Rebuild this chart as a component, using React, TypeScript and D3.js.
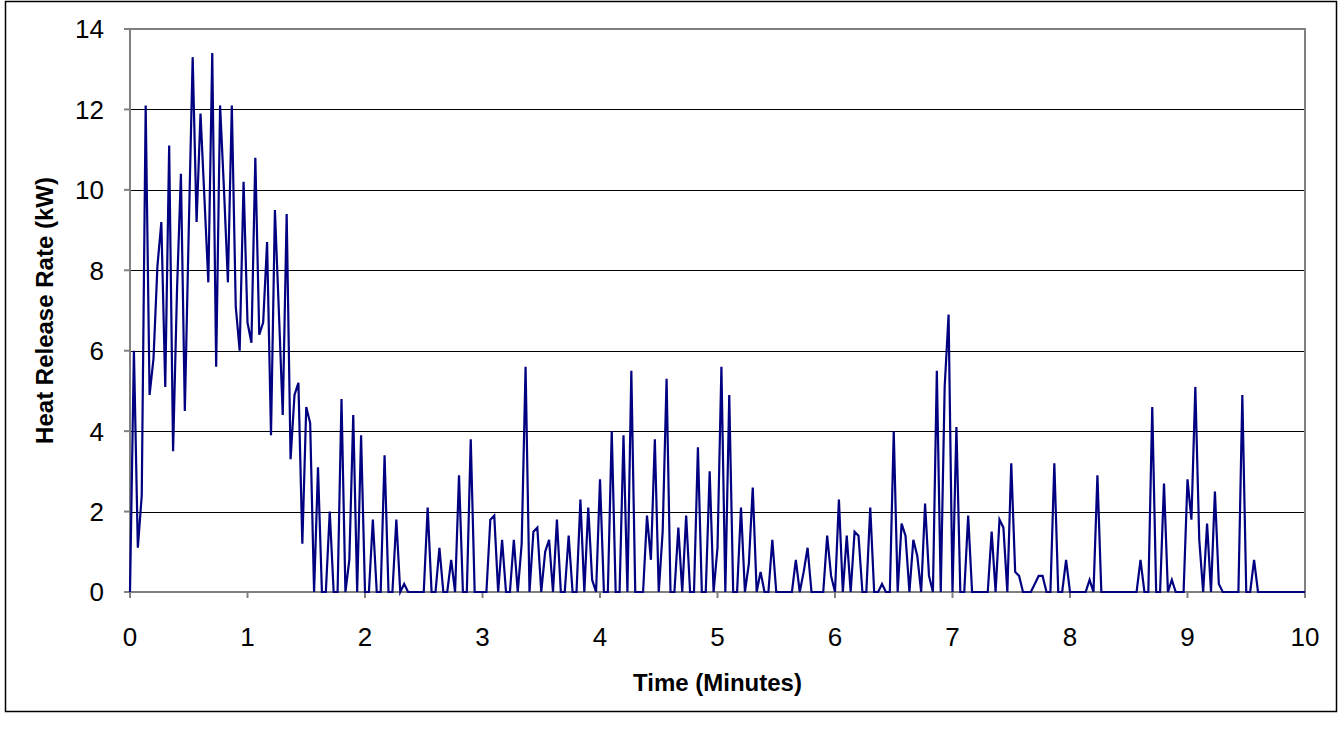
import React from "react";
import * as d3 from "d3";

// Heat release rate samples, one every 2 seconds (0 to 10 minutes)
const SAMPLE_MINUTES = 1 / 30;
const hrrValues: number[] = [
  0, 6.0, 1.1, 2.4, 12.1, 4.9, 5.8, 8.1, 9.2, 5.1,
  11.1, 3.5, 7.5, 10.4, 4.5, 9.0, 13.3, 9.2, 11.9, 9.8,
  7.7, 13.4, 5.6, 12.1, 10.0, 7.7, 12.1, 7.1, 6.0, 10.2,
  6.7, 6.2, 10.8, 6.4, 6.7, 8.7, 3.9, 9.5, 7.0, 4.4,
  9.4, 3.3, 4.9, 5.2, 1.2, 4.6, 4.2, 0, 3.1, 0,
  0, 2.0, 0, 0, 4.8, 0, 0.8, 4.4, 0, 3.9,
  0, 0, 1.8, 0, 0, 3.4, 0, 0, 1.8, 0,
  0.2, 0, 0, 0, 0, 0, 2.1, 0, 0, 1.1,
  0, 0, 0.8, 0, 2.9, 0, 0, 3.8, 0, 0,
  0, 0, 1.8, 1.9, 0, 1.3, 0, 0, 1.3, 0,
  1.2, 5.6, 0, 1.5, 1.6, 0, 1.0, 1.3, 0, 1.8,
  0, 0, 1.4, 0, 0, 2.3, 0, 2.1, 0.3, 0,
  2.8, 0, 0, 4.0, 0, 0, 3.9, 0, 5.5, 0,
  0, 0, 1.9, 0.8, 3.8, 0, 1.5, 5.3, 0, 0,
  1.6, 0, 1.9, 0, 0, 3.6, 0, 0, 3.0, 0,
  1.1, 5.6, 0, 4.9, 0, 0, 2.1, 0, 0.7, 2.6,
  0, 0.5, 0, 0, 1.3, 0, 0, 0, 0, 0,
  0.8, 0, 0.5, 1.1, 0, 0, 0, 0, 1.4, 0.4,
  0, 2.3, 0, 1.4, 0, 1.5, 1.4, 0, 0, 2.1,
  0, 0, 0.2, 0, 0, 4.0, 0, 1.7, 1.4, 0,
  1.3, 0.9, 0, 2.2, 0.4, 0, 5.5, 0, 5.1, 6.9,
  0, 4.1, 0, 0, 1.9, 0, 0, 0, 0, 0,
  1.5, 0, 1.8, 1.6, 0, 3.2, 0.5, 0.4, 0, 0,
  0, 0.2, 0.4, 0.4, 0, 0, 3.2, 0, 0, 0.8,
  0, 0, 0, 0, 0, 0.3, 0, 2.9, 0, 0,
  0, 0, 0, 0, 0, 0, 0, 0, 0.8, 0,
  0, 4.6, 0, 0, 2.7, 0, 0.3, 0, 0, 0,
  2.8, 1.8, 5.1, 1.3, 0, 1.7, 0, 2.5, 0.2, 0,
  0, 0, 0, 0, 4.9, 0, 0, 0.8, 0, 0,
  0, 0, 0, 0, 0, 0, 0, 0, 0, 0,
  0,
];

const xTicks: number[] = [0, 1, 2, 3, 4, 5, 6, 7, 8, 9, 10];
const yTicks: number[] = [0, 2, 4, 6, 8, 10, 12, 14];
const xTitle = "Time (Minutes)";
const yTitle = "Heat Release Rate (kW)";

const W = 1343;
const H = 731;
const plot = { left: 130, right: 1305, top: 29, bottom: 592 };

export default function App() {
  const x = d3.scaleLinear().domain([0, 10]).range([plot.left, plot.right]);
  const y = d3.scaleLinear().domain([0, 14]).range([plot.bottom, plot.top]);
  const pts: [number, number][] = hrrValues.map((v, i) => [i * SAMPLE_MINUTES, v]);
  const line = d3
    .line<[number, number]>()
    .x((d) => x(d[0]))
    .y((d) => y(d[1]));
  const font = "'Liberation Sans', Arial, sans-serif";

  return (
    <svg
      width={W}
      height={H}
      style={{ position: "absolute", left: 0, top: 0, background: "#fff" }}
    >
      <rect x={5.5} y={1.5} width={1331} height={710} fill="#fff" stroke="#000" strokeWidth={1.5} />
      {/* gridlines */}
      {yTicks.filter((t) => t > 0 && t < 14).map((t) => (
        <line key={"g" + t} x1={plot.left} x2={plot.right} y1={Math.round(y(t)) + 0.5} y2={Math.round(y(t)) + 0.5} stroke="#000" strokeWidth={1} />
      ))}
      {/* plot border */}
      <rect x={plot.left} y={plot.top} width={plot.right - plot.left} height={plot.bottom - plot.top} fill="none" stroke="#808080" strokeWidth={2} />
      {/* y ticks */}
      {yTicks.map((t) => (
        <g key={"y" + t}>
          <line x1={plot.left - 6} x2={plot.left} y1={y(t)} y2={y(t)} stroke="#808080" strokeWidth={2} />
          <text x={104} y={y(t)} dy="0.36em" textAnchor="end" fontFamily={font} fontSize={26} fill="#000">
            {t}
          </text>
        </g>
      ))}
      {/* x ticks */}
      {xTicks.map((t) => (
        <g key={"x" + t}>
          <line x1={x(t)} x2={x(t)} y1={plot.bottom} y2={plot.bottom + 6} stroke="#808080" strokeWidth={2} />
          <text x={x(t)} y={646} textAnchor="middle" fontFamily={font} fontSize={26} fill="#000">
            {t}
          </text>
        </g>
      ))}
      <path d={line(pts) || ""} fill="none" stroke="#000080" strokeWidth={2.2} strokeLinejoin="miter" />
      <text x={(plot.left + plot.right) / 2} y={691} textAnchor="middle" fontFamily={font} fontSize={24} fontWeight="bold" fill="#000">
        {xTitle}
      </text>
      <text
        transform={`translate(53, ${(plot.top + plot.bottom) / 2}) rotate(-90)`}
        textAnchor="middle"
        fontFamily={font}
        fontSize={24}
        fontWeight="bold"
        fill="#000"
      >
        {yTitle}
      </text>
    </svg>
  );
}
